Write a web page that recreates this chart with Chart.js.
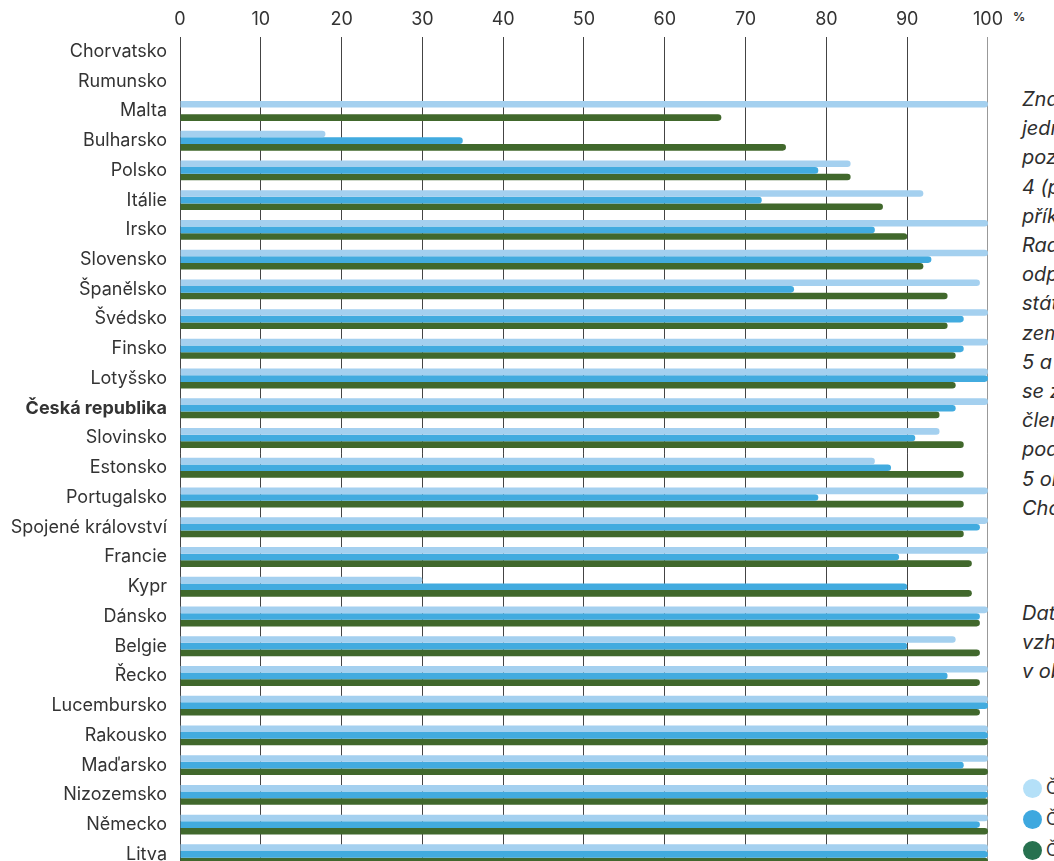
<!DOCTYPE html>
<html lang="cs">
<head>
<meta charset="utf-8">
<script src="https://cdn.jsdelivr.net/npm/chart.js@4/dist/chart.umd.min.js"></script>
<style>
    body { margin: 0; width: 1054px; height: 861px; overflow: hidden; background: #fff; font-family: Inter, "Noto Sans", sans-serif; color: #333; position: relative; }
    #chart { position: absolute; left: 0; top: 0; }
    #pct { position: absolute; left: 1013px; top: 9px; font-size: 12px; font-weight: 700; color: #333; }
    .note { position: absolute; left: 1022px; font-size: 20px; font-style: italic; line-height: 29.2px; white-space: nowrap; color: #2e2e2e; }
    .leg { position: absolute; left: 1023px; font-size: 17px; white-space: nowrap; color: #333; display: flex; align-items: center; }
    .leg span { display: inline-block; width: 19px; height: 19px; border-radius: 50%; margin-right: 4px; }
</style>
</head>
<body>
<canvas id="chart" width="1009" height="885"></canvas>
<div id="pct">%</div>
<div class="note" style="top:85px">Znamená<br>jedna<br>pozitivní<br>4 (plně)<br>příklad<br>Radě<br>odpovídá<br>státy<br>země<br>5 a více<br>se zapojily<br>členských<br>podle<br>5 oblastí<br>Chorvatsko</div>
<div class="note" style="top:599px">Data<br>vzhledem<br>v oblasti</div>
<div class="leg" style="top:778px"><span style="background:#b4e0f8"></span>Čas</div>
<div class="leg" style="top:809px"><span style="background:#3ea8df"></span>Čas</div>
<div class="leg" style="top:840px"><span style="background:#27714f"></span>Čas</div>
<script>
let countries = ["Chorvatsko", "Rumunsko", "Malta", "Bulharsko", "Polsko", "Itálie", "Irsko", "Slovensko",
    "Španělsko", "Švédsko", "Finsko", "Lotyšsko", "Česká republika", "Slovinsko", "Estonsko", "Portugalsko",
    "Spojené království", "Francie", "Kypr", "Dánsko", "Belgie", "Řecko", "Lucembursko", "Rakousko",
    "Maďarsko", "Nizozemsko", "Německo", "Litva"];

let lightValues = [null, null, 100, 18, 83, 92, 100, 100, 99, 100, 100, 100, 100, 94, 86, 100,
    100, 100, 30, 100, 96, 100, 100, 100, 100, 100, 100, 100];
let blueValues = [null, null, null, 35, 79, 72, 86, 93, 76, 97, 97, 100, 96, 91, 88, 79,
    99, 89, 90, 99, 90, 95, 100, 100, 97, 100, 99, 100];
let greenValues = [null, null, 67, 75, 83, 87, 90, 92, 95, 95, 96, 96, 94, 97, 97, 97,
    97, 98, 98, 99, 99, 99, 99, 100, 100, 100, 100, 100];

let xTicks = [0, 10, 20, 30, 40, 50, 60, 70, 80, 90, 100];

function makeSet(data, color) {
    return {
        data: data,
        backgroundColor: color,
        borderRadius: 4,
        borderSkipped: "start",
        categoryPercentage: 0.67,
        barPercentage: 1
    };
}

new Chart(document.getElementById("chart"), {
    type: "bar",
    data: {
        labels: countries,
        datasets: [
            makeSet(lightValues, "#a4d0ef"),
            makeSet(blueValues, "#42abdf"),
            makeSet(greenValues, "#41682c")
        ]
    },
    options: {
        indexAxis: "y",
        responsive: false,
        animation: false,
        layout: { padding: { right: 15, top: 3, bottom: 0 } },
        plugins: { legend: { display: false }, tooltip: { enabled: false } },
        scales: {
            x: {
                position: "top",
                min: 0,
                max: 100,
                afterBuildTicks: axis => { axis.ticks = xTicks.map(v => ({ value: v })); },
                ticks: { color: "#333", padding: 6, font: { family: "Inter", size: 18 } },
                grid: {
                    drawTicks: false,
                    lineWidth: 1,
                    color: ctx => ctx.tick && ctx.tick.value === 100 ? "#999" : "#444"
                },
                border: { display: false }
            },
            y: {
                afterFit: axis => { axis.width = 180; },
                grid: { display: false },
                border: { display: false },
                ticks: {
                    color: "#333",
                    padding: 5,
                    font: ctx => ({
                        family: "Inter",
                        size: 18,
                        weight: countries[ctx.index] === "Česká republika" ? "bold" : "normal"
                    })
                }
            }
        }
    }
});
</script>
</body>
</html>
